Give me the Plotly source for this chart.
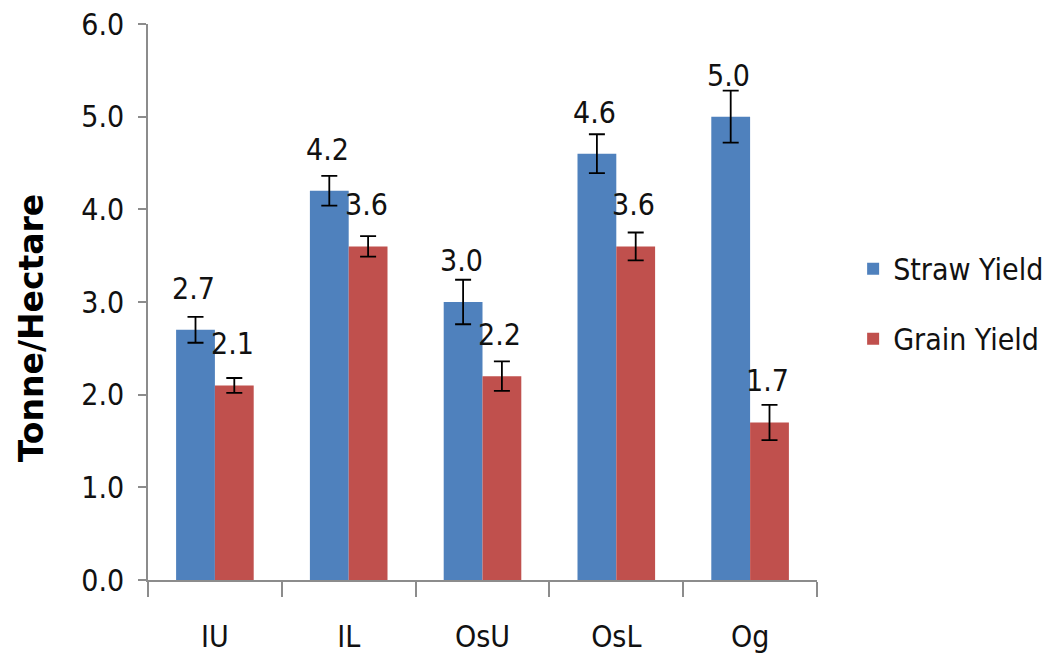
import plotly.graph_objects as go

categories = ["IU", "IL", "OsU", "OsL", "Og"]
straw_yield = [2.7, 4.2, 3.0, 4.6, 5.0]
grain_yield = [2.1, 3.6, 2.2, 3.6, 1.7]
straw_err = [0.14, 0.16, 0.24, 0.21, 0.28]
grain_err = [0.08, 0.11, 0.16, 0.15, 0.19]
series_names = ["Straw Yield", "Grain Yield"]
y_ticks = [0, 1, 2, 3, 4, 5, 6]

NARROW = "Liberation Sans Narrow, Arial Narrow, DejaVu Sans Condensed, Liberation Sans, sans-serif"
BLUE = "#4F81BD"
RED = "#C0504D"
AXIS = "#8C8C8C"
FS = 30

fig = go.Figure()
for name, vals, errs, color, grp in [
    (series_names[0], straw_yield, straw_err, BLUE, "g1"),
    (series_names[1], grain_yield, grain_err, RED, "g2"),
]:
    fig.add_trace(go.Bar(
        x=categories, y=vals, name=name, legendgroup=grp,
        marker=dict(color=color, line=dict(width=0)),
        error_y=dict(type="data", array=errs, visible=True,
                     color="black", thickness=1.8, width=8),
    ))

# data labels above bars
annotations = []
for vals, shift in [(straw_yield, -19.4), (grain_yield, 19.4)]:
    for c, v in zip(categories, vals):
        annotations.append(dict(
            x=c, y=v, xref="x", yref="y", text=f"{v:.1f}",
            showarrow=False, xshift=shift - 2, yshift=22,
            yanchor="bottom", xanchor="center",
            font=dict(family=NARROW, size=FS, color="#111111"),
        ))

annotations.append(dict(
    x=-0.174, y=0.452, xref="paper", yref="paper",
    text="<b>Tonne/Hectare</b>", textangle=-90, showarrow=False,
    xanchor="center", yanchor="middle",
    font=dict(family="DejaVu Sans", size=33, color="black"),
))

fig.update_layout(
    width=1044, height=651,
    margin=dict(l=140, r=235, t=16, b=79, autoexpand=False),
    paper_bgcolor="white", plot_bgcolor="white",
    barmode="group", bargap=0.42, bargroupgap=0,
    showlegend=True,
    legend=dict(x=1.054, y=0.497, xanchor="left", yanchor="middle",
                traceorder="grouped", tracegroupgap=28,
                font=dict(family=NARROW, size=FS, color="#111111"),
                bgcolor="rgba(0,0,0,0)"),
    annotations=annotations,
    font=dict(family=NARROW, size=FS, color="#111111"),
)
fig.update_yaxes(
    range=[0, 6], tickvals=y_ticks, tickformat=".1f",
    showgrid=False, zeroline=False, automargin=False,
    showline=True, linecolor=AXIS, linewidth=1.5,
    ticks="outside", ticklen=8, tickcolor=AXIS, tickwidth=1.5,
    ticklabelstandoff=8, ticklabeloverflow="allow",
    tickfont=dict(family=NARROW, size=FS, color="#111111"),
)
fig.update_xaxes(
    showgrid=False, zeroline=False, automargin=False,
    showline=True, linecolor=AXIS, linewidth=1.5,
    ticks="outside", ticklen=15, tickcolor=AXIS, tickwidth=1.5,
    tickson="boundaries", ticklabelstandoff=29, ticklabeloverflow="allow",
    tickfont=dict(family=NARROW, size=FS, color="#111111"),
)

fig.write_html("out.html")
